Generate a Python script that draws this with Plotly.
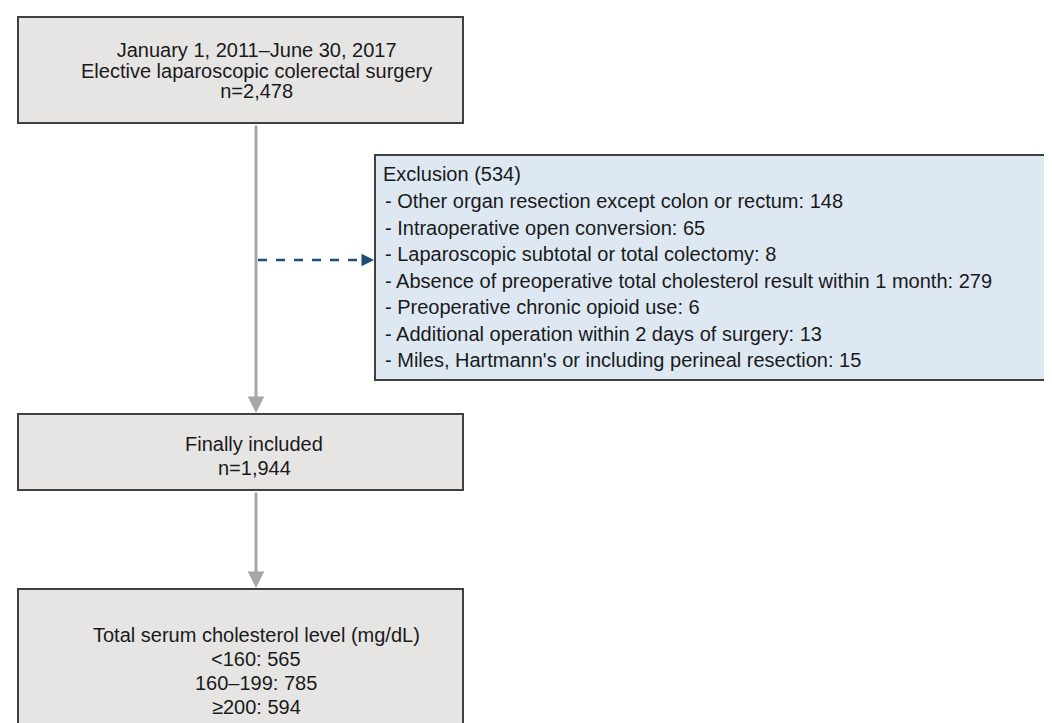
import plotly.graph_objects as go

# ---- data (text content of the flowchart) ----
start_lines = ["January 1, 2011\u2013June 30, 2017", "Elective laparoscopic colerectal surgery", "n=2,478"]
exclusion_title = "Exclusion (534)"
exclusion_reasons = [
    "Other organ resection except colon or rectum",
    "Intraoperative open conversion",
    "Laparoscopic subtotal or total colectomy",
    "Absence of preoperative total cholesterol result within 1 month",
    "Preoperative chronic opioid use",
    "Additional operation within 2 days of surgery",
    "Miles, Hartmann's or including perineal resection",
]
exclusion_counts = [148, 65, 8, 279, 6, 13, 15]
included_lines = ["Finally included", "n=1,944"]
chol_title = "Total serum cholesterol level (mg/dL)"
chol_groups = ["<160", "160\u2013199", "\u2265200"]
chol_counts = [565, 785, 594]

# ---- layout constants (pixel space) ----
W, H = 1052, 723
BOX_FILL = "#e6e5e4"
BOX_LINE = "#404040"
EXC_FILL = "#dde8f3"
ARROW = "#a6a6a6"
DASH = "#1f4e79"
FONT = "Liberation Sans, Arial, sans-serif"
TXT = "#1a1a1a"

fig = go.Figure()
shapes = []
ann = []

def box(x0, y0, x1, y1, fill):
    shapes.append(dict(type="rect", xref="x", yref="y", x0=x0, y0=y0, x1=x1, y1=y1,
                       fillcolor=fill, line=dict(color=BOX_LINE, width=2), layer="below"))

def text(x, y, s, size=20, anchor="center"):
    ann.append(dict(x=x, y=y, xref="x", yref="y", text=s, showarrow=False,
                    xanchor=anchor, yanchor="middle", align=anchor if anchor != "center" else "center",
                    font=dict(family=FONT, size=size, color=TXT)))

def arrow(x0, y0, x1, y1, color, width, head=2, size=1.0):
    ann.append(dict(x=x1, y=y1, ax=x0, ay=y0, xref="x", yref="y", axref="x", ayref="y",
                    text="", showarrow=True, arrowhead=head, arrowsize=size,
                    arrowwidth=width, arrowcolor=color, standoff=0, startstandoff=0))

CX = 248
# boxes
box(10, 9, 455, 115, BOX_FILL)
box(367, 147, 1050.5, 372, EXC_FILL)
box(10, 406, 455, 482, BOX_FILL)
box(10, 581, 455, 740, BOX_FILL)

# arrows
arrow(CX, 116, CX, 405, ARROW, 3, head=2, size=1.1)
arrow(CX, 483, CX, 580, ARROW, 3, head=2, size=1.1)
shapes.append(dict(type="line", xref="x", yref="y", x0=CX + 2, y0=252, x1=358, y1=252,
                   line=dict(color=DASH, width=2.5, dash="dash")))
arrow(356, 252, 366, 252, DASH, 2.5, head=2, size=1.0)

# top box: tighter leading -> one annotation, smaller base size (sets line spacing), 20px glyphs
top_txt = "<br>".join(f'<span style="font-size:20px">{s}</span>' for s in start_lines)
text(CX, 62, top_txt, size=15.8)

for i, s in enumerate(included_lines):
    text(246, 436 + 24 * i, s)
text(CX, 627, chol_title)
for i, (g, c) in enumerate(zip(chol_groups, chol_counts)):
    text(CX, 651 + 24 * i, f"{g}: {c}")

text(373, 166, exclusion_title, size=20, anchor="left")
for i, (r, c) in enumerate(zip(exclusion_reasons, exclusion_counts)):
    text(375, 193 + 26.5 * i, f"- {r}: {c}", size=20, anchor="left")

fig.update_layout(
    width=W, height=H, margin=dict(l=0, r=0, t=0, b=0),
    paper_bgcolor="white", plot_bgcolor="white",
    xaxis=dict(range=[0, W], visible=False, fixedrange=True),
    yaxis=dict(range=[H, 0], visible=False, fixedrange=True),
    shapes=shapes, annotations=ann, showlegend=False,
)
fig.write_html("out.html")
